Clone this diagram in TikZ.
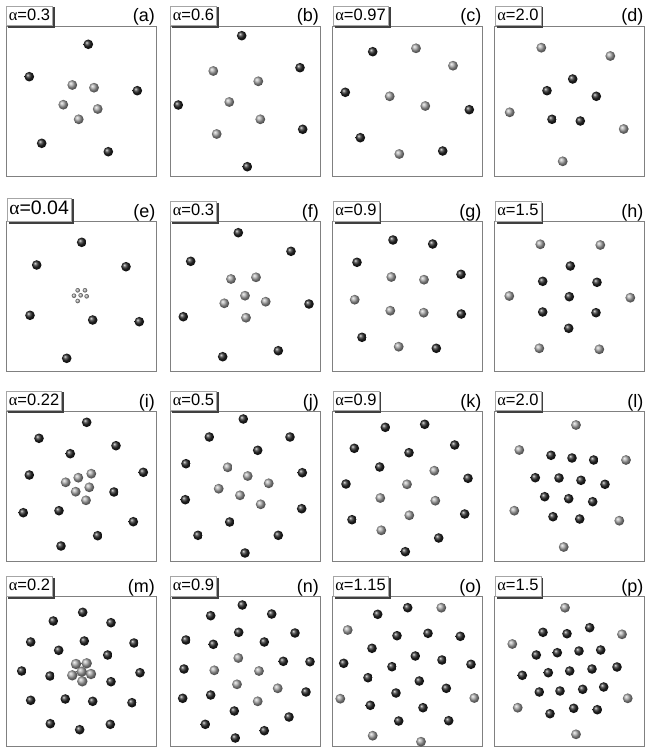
\documentclass[tikz,border=0pt]{standalone}
\usepackage{fontspec}
\setmainfont{Liberation Sans}
\newfontfamily\greekfont{Liberation Serif}
\tikzset{
  panelbox/.style={draw=black!50, line width=0.8pt},
  lab/.style={draw=black!35, fill=white, line width=0.6pt, inner xsep=2.5pt, inner ysep=2pt,
    text height=12pt, text depth=3.5pt, font=\fontsize{16.5}{16.5}\selectfont, anchor=south west},
  biglab/.style={lab, text height=14.5pt, text depth=4.5pt, font=\fontsize{19.5}{19.5}\selectfont},
  letter/.style={inner sep=0pt, anchor=base east, font=\fontsize{18}{18}\selectfont},
  shadowline/.style={draw=black!75, line width=1.6pt},
  darkball/.style={ball color=black!85},
  greyball/.style={ball color=black!36},
}
\newcommand\mypanel[6]{% name, x, y, alpha, letter, label style
  \draw[panelbox] (#2,#3) rectangle ++(150,150);
  \node[#6] (lab#1) at (#2,#3) {{\greekfont α}=#4};
  \draw[shadowline] ([xshift=1.2pt,yshift=-1.5pt]lab#1.north east) -- ([shift={(1.2pt,-1.2pt)}]lab#1.south east) -- ([shift={(2pt,-1.2pt)}]lab#1.south west);
  \node[letter] (let#1) at (#2+149,#3-4) {(#5)};
}
\newcommand\darks[1]{\foreach \x/\y in {#1} \shade[darkball] (\x,\y) circle (4.8pt);}
\newcommand\greys[2][4.9pt]{\foreach \x/\y in {#2} \shade[greyball] (\x,\y) circle (#1);}
\begin{document}
\begin{tikzpicture}[x=1pt,y=-1pt]
\useasboundingbox (0,0) rectangle (645,749);
\fill[white] (0,0) rectangle (645,749);
% row 1
\mypanel{a}{6}{26}{0.3}{a}{lab}
\mypanel{b}{170}{26}{0.6}{b}{lab}
\mypanel{c}{332.5}{26}{0.97}{c}{lab}
\mypanel{d}{494.5}{26}{2.0}{d}{lab}
% row 2
\mypanel{e}{6.5}{221.5}{0.04}{e}{biglab}
\mypanel{f}{170}{221.5}{0.3}{f}{lab}
\mypanel{g}{332.5}{221.5}{0.9}{g}{lab}
\mypanel{h}{494.5}{221.5}{1.5}{h}{lab}
% row 3
\mypanel{i}{6}{411}{0.22}{i}{lab}
\mypanel{j}{170}{411}{0.5}{j}{lab}
\mypanel{k}{332.5}{411}{0.9}{k}{lab}
\mypanel{l}{494.5}{411}{2.0}{l}{lab}
% row 4
\mypanel{m}{6}{596.5}{0.2}{m}{lab}
\mypanel{n}{170}{596.5}{0.9}{n}{lab}
\mypanel{o}{332.5}{596.5}{1.15}{o}{lab}
\mypanel{p}{494.5}{596.5}{1.5}{p}{lab}

% (a)
\darks{88.3/44.3, 29.3/76.7, 137.3/90.7, 41.7/143.3, 108.3/151.7}
\greys{72.3/85, 94/87.7, 63.3/104.7, 97.7/109, 78.7/119.3}
% (b)
\darks{241.7/35.7, 300/67.7, 178.3/105, 302.7/129.3, 247.3/166.7}
\greys{213.3/71, 258.3/81.3, 229.3/102, 260.3/119.3, 216.7/134}
% (c)
\darks{372.7/51.7, 345.3/92.3, 469.3/109.7, 360.3/137.7, 442.7/151}
\greys{416/48.3, 453/65.7, 389.7/96.3, 425.3/106, 399.3/154}
% (d)
\darks{572.7/79, 547/90.7, 596.3/96.3, 552/119.3, 580.3/121}
\greys{541.3/47.7, 610.3/56, 509.7/112.3, 623.7/129, 562.7/161.3}
% (e)
\darks{81.7/242.3, 36.7/265, 126/266.7, 30/315.3, 92.7/320, 139.3/321.7, 66.7/358.3}
\greys[2.3pt]{77.7/290.3, 85/290.3, 74/295.7, 80.7/295.3, 86.7/296.3, 77.7/301}
% (f)
\darks{238.3/232.7, 190.7/261.3, 291/251.3, 309/304, 183.3/316.7, 278.3/350.7, 222.7/356.7}
\greys{231/279, 256/277.3, 245/295.7, 224.3/303.3, 265.7/301.7, 246/317.7}
% (g)
\darks{393/240, 432.7/244, 357/262.3, 461/274.3, 461.3/314, 362/337.3, 436.3/348.3}
\greys{391.3/277, 424/279.7, 354.7/299.7, 390.3/310.7, 423.7/312.7, 398.7/346.7}
% (h)
\darks{570.3/266, 542.7/281.3, 597/282.3, 569.3/296.7, 542.7/312, 596/312.7, 568.7/328.3}
\greys{540.3/244.3, 600.3/245, 509.3/296, 630.3/297.7, 539.3/348.3, 599.3/349.3}
% (i)
\darks{86.7/422.3, 39/438.3, 116/445.7, 70.3/453.7, 29.3/475, 143.3/472.3, 114/492, 23.3/512.7, 59/510.7, 133.3/521.7, 97.7/535.7, 61/546}
\greys{65.7/482.3, 78.3/477.7, 91.3/473.7, 75.7/491.7, 89.3/487.3, 86/500.3}
% (j)
\darks{243.3/419, 209.3/437, 290/437, 257.7/450.3, 186/463.7, 302.3/472.7, 185.3/499.7, 301.7/508.7, 229.7/522, 198/535.3, 278.3/535.3, 245/553}
\greys{227.7/467.3, 247.7/476, 268.7/483.3, 218.7/488.7, 240/495.3, 260.7/504.3}
% (k)
\darks{385.3/427.3, 424.7/424.3, 354.3/448.3, 454.7/445, 409/452.7, 379.7/467, 346/484, 468/478.3, 464.7/514, 352/519.7, 438.7/538, 405.3/551.7}
\greys{434.3/470.7, 407/484.3, 380.3/498, 435.3/500.7, 409.3/515.3, 381.3/530.3}
% (l)
\darks{551/455.3, 572/458, 593.7/460, 535.3/477.7, 559/478, 581/480.3, 605/484.3, 544.7/496.7, 568.7/498.7, 592.7/501.7, 553/516.7, 579.7/519}
\greys{576/425, 519.3/450, 626/460, 514.3/510.7, 619.3/520.7, 563.7/547}
% (m)
\darks{82.7/612.3, 53.3/621, 111/622.7, 30.7/642, 84.3/641, 58.7/650.3, 134/643, 107.7/655, 21.7/671, 50/676, 140/672.7, 111/681.7, 30.7/700.3, 65.3/699, 92.7/701.3, 132/702.7, 50.3/723.7, 79.7/729.7, 110.3/724.3}
\greys[5.2pt]{76/664, 86.7/663.3, 81.7/671.7, 72.3/675.3, 91/674, 82.3/681.3}
% (n)
\darks{242.3/605, 210.7/615.7, 271.7/614, 186/640, 238.7/632.3, 295/633, 213.3/644.3, 264.3/642, 283.3/661.3, 310/661.7, 184/669, 182.7/698.3, 210.7/695, 306/692, 234.3/711, 289/717, 205.3/724.3, 264.3/730.7, 235.3/738}
\greys{238.3/658, 214.3/670.3, 259/671, 237/684.3, 277.7/688.3, 257.7/701.3}
% (o)
\darks{407.7/607.7, 377.7/614.3, 397/635.7, 428/633.3, 460.3/636.3, 372/648.3, 415.3/656, 442/660, 343.7/663.3, 392/666.7, 471/664.3, 368/677.7, 419.3/681, 446.3/688.3, 396/693, 370.3/705.3, 423/707.7, 398.7/721, 448.7/720.7}
\greys{441.3/607.7, 347.7/630, 340.3/698.7, 474.3/698, 372.7/735.7, 421/741.7}
% (p)
\darks{589.7/627.7, 543/632.3, 567/633.7, 536.3/655, 557.3/652.7, 579/651, 600.7/650, 617/667, 522.3/675.3, 548.3/672.7, 569.7/671, 592/669, 539.3/692, 560/691, 582.7/689.3, 603.7/687, 550/713.7, 573.7/708.3, 597.3/709.7}
\greys{565/607.7, 622/634.3, 512.3/644, 627.7/698.3, 517.7/707.7, 576/734.3}
\end{tikzpicture}
\end{document}
